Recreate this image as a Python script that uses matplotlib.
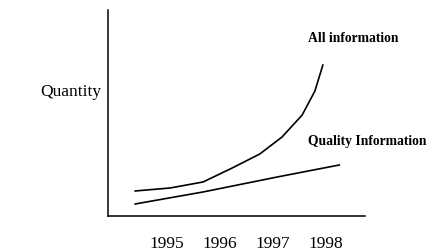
import matplotlib.pyplot as plt

# Values (arbitrary quantity units)
all_years = [1994.4, 1995.06, 1995.68, 1996.23, 1996.75, 1997.17, 1997.55, 1997.79, 1997.94]
all_qty = [25, 28, 34, 48, 62, 79, 101, 125, 151]
quality_years = [1994.4, 1995.68, 1997.08, 1998.25]
quality_qty = [12, 24, 39, 51]
tick_years = [1995, 1996, 1997, 1998]

plt.rcParams['font.family'] = ['Liberation Serif', 'DejaVu Serif']

fig = plt.figure(figsize=(4.32, 2.52), dpi=100)
ax = fig.add_axes([0.25, 0.143, 0.595, 0.817])

ax.plot(all_years, all_qty, color='black', lw=1.2)
ax.plot(quality_years, quality_qty, color='black', lw=1.2)

ax.set_xlim(1993.887, 1998.736)
ax.set_ylim(0, 206)
ax.spines['top'].set_visible(False)
ax.spines['right'].set_visible(False)
ax.spines['left'].set_linewidth(1.1)
ax.spines['bottom'].set_linewidth(1.1)
ax.set_xticks(tick_years)
ax.set_xticklabels([str(y) for y in tick_years], fontsize=12.5)
ax.tick_params(axis='x', length=0, pad=14.5)
ax.set_yticks([])

ax.text(1997.66, 178, 'All information', fontsize=9.8, fontweight='bold', va='center')
ax.text(1997.66, 75, 'Quality Information', fontsize=9.8, fontweight='bold', va='center')
fig.text(40 / 432, 1 - 92 / 252, 'Quantity', fontsize=12.5, va='center', ha='left')

fig.savefig('out.png', dpi=100)
